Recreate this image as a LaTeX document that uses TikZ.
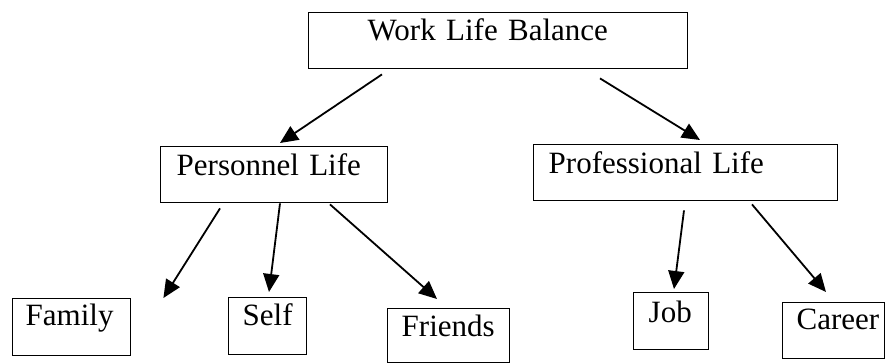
\documentclass[tikz,border=0pt]{standalone}
\usepackage{fontspec}
\setmainfont{Liberation Serif}
\usetikzlibrary{arrows.meta}

\begin{document}
\begin{tikzpicture}[x=0.5pt,y=-0.5pt,
    box/.style={draw,line width=0.7pt,inner ysep=0pt,anchor=north west,align=left,
        font=\fontsize{15.5}{18}\selectfont},
    arr/.style={line width=0.9pt,-{Triangle[length=9pt,width=8pt]}}]
    \useasboundingbox (0,0) rectangle (885,363);

    % Top
    \node[box,inner xsep=29.5pt,text width=130.5pt,text height=14pt,text depth=14pt] (wlb) at (308,12) {Work Life Balance};

    % Middle level
    \node[box,inner xsep=8pt,text width=97.5pt,text height=14.5pt,text depth=13.5pt] (pers) at (160,146) {Personnel Life};
    \node[box,inner xsep=7.5pt,text width=137pt,text height=14.5pt,text depth=13.5pt] (prof) at (533,144) {Professional Life};

    % Bottom level
    \node[box,inner xsep=6.5pt,text width=46pt,text height=13.5pt,text depth=15pt] (family) at (12,298) {Family};
    \node[box,inner xsep=7pt,text width=25pt,text height=14pt,text depth=14.5pt] (self) at (228,297) {Self};
    \node[box,inner xsep=7pt,text width=47pt,text height=14pt,text depth=13pt] (friends) at (387,308) {Friends};
    \node[box,inner xsep=7.5pt,text width=22.5pt,text height=15pt,text depth=13.5pt] (job) at (633,292) {Job};
    \node[box,inner xsep=7pt,text width=37pt,text height=13.5pt,text depth=14.5pt] (career) at (782,302) {Career};

    % Arrows
    \draw[arr] ([shift={(74,5)}]wlb.south west) -- ([shift={(120,-3)}]pers.north west);
    \draw[arr] ([shift={(292,9)}]wlb.south west) -- ([shift={(167,-4)}]prof.north west);
    \draw[arr] ([shift={(60,5)}]pers.south west) -- ([shift={(32,0)}]family.north east);
    \draw[arr] ([shift={(120,0)}]pers.south west) -- ([shift={(41,-5)}]self.north west);
    \draw[arr] ([shift={(170,1)}]pers.south west) -- ([shift={(50,-9)}]friends.north west);
    \draw[arr] ([shift={(151,9)}]prof.south west) -- ([shift={(41,-3)}]job.north west);
    \draw[arr] ([shift={(219,3)}]prof.south west) -- ([shift={(44,-10)}]career.north west);
\end{tikzpicture}
\end{document}
